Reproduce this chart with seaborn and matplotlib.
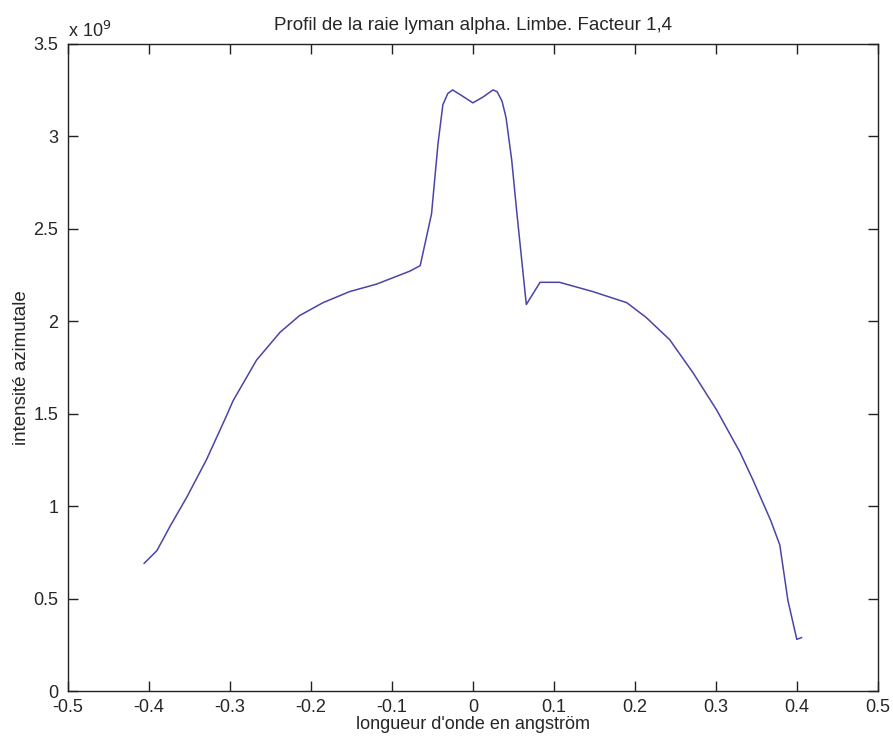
import numpy as np
import pandas as pd
import matplotlib
matplotlib.use("Agg")
import matplotlib.pyplot as plt
from matplotlib.ticker import FuncFormatter
import seaborn as sns

# data (intensity in units of 1e9)
wavelength = [-0.406, -0.390, -0.374, -0.353, -0.329, -0.304, -0.296, -0.267,
              -0.238, -0.214, -0.185, -0.152, -0.119, -0.078, -0.065, -0.051,
              -0.043, -0.037, -0.031, -0.025, -0.014, 0.000, 0.012, 0.025,
              0.030, 0.036, 0.041, 0.048, 0.054, 0.066, 0.083, 0.099,
              0.107, 0.148, 0.190, 0.214, 0.243, 0.272, 0.301, 0.330,
              0.346, 0.368, 0.379, 0.389, 0.400, 0.406]
intensity = [0.69, 0.76, 0.89, 1.05, 1.25, 1.49, 1.57, 1.79,
             1.94, 2.03, 2.10, 2.16, 2.20, 2.27, 2.30, 2.58,
             2.96, 3.17, 3.23, 3.25, 3.22, 3.18, 3.21, 3.25,
             3.24, 3.19, 3.10, 2.87, 2.60, 2.09, 2.21, 2.21,
             2.21, 2.16, 2.10, 2.02, 1.90, 1.72, 1.52, 1.29,
             1.14, 0.92, 0.79, 0.49, 0.28, 0.29]

x_ticks = [-0.5, -0.4, -0.3, -0.2, -0.1, 0, 0.1, 0.2, 0.3, 0.4, 0.5]
y_ticks = [0, 0.5, 1, 1.5, 2, 2.5, 3, 3.5]

df = pd.DataFrame({"x": wavelength, "y": np.array(intensity) * 1e9})

sns.set_style("ticks")
plt.rcParams["font.family"] = ["Liberation Sans", "DejaVu Sans"]

fig = plt.figure(figsize=(8.93, 7.40), dpi=100)
ax = fig.add_axes([0.076, 0.066, 0.907, 0.875])

sns.lineplot(data=df, x="x", y="y", sort=False, estimator=None,
             color="#4a44a8", linewidth=1.1, ax=ax)

ax.set_xlim(-0.5, 0.5)
ax.set_ylim(0, 3.5e9)
ax.set_xticks(x_ticks)
ax.set_yticks([v * 1e9 for v in y_ticks])
ax.xaxis.set_major_formatter(FuncFormatter(lambda v, p: f"{v:g}"))
ax.yaxis.set_major_formatter(FuncFormatter(lambda v, p: f"{v / 1e9:g}"))

ax.tick_params(direction="in", length=7, width=1, top=True, right=True,
               labelsize=13, color="#222222")
ax.tick_params(axis="x", pad=6)
ax.tick_params(axis="y", pad=7)
for s in ax.spines.values():
    s.set_linewidth(1.0)
    s.set_color("#222222")

ax.set_title("Profil de la raie lyman alpha. Limbe. Facteur 1,4", fontsize=13.5, pad=10)
ax.set_xlabel("longueur d'onde en angstr\u00f6m", fontsize=13, labelpad=0)
ax.set_ylabel("intensit\u00e9 azimutale", fontsize=13.5, labelpad=2)
ax.text(0.0, 1.011, "x 10$^{9}$", transform=ax.transAxes, fontsize=13,
        ha="left", va="baseline")

fig.savefig("out.png", dpi=100)
